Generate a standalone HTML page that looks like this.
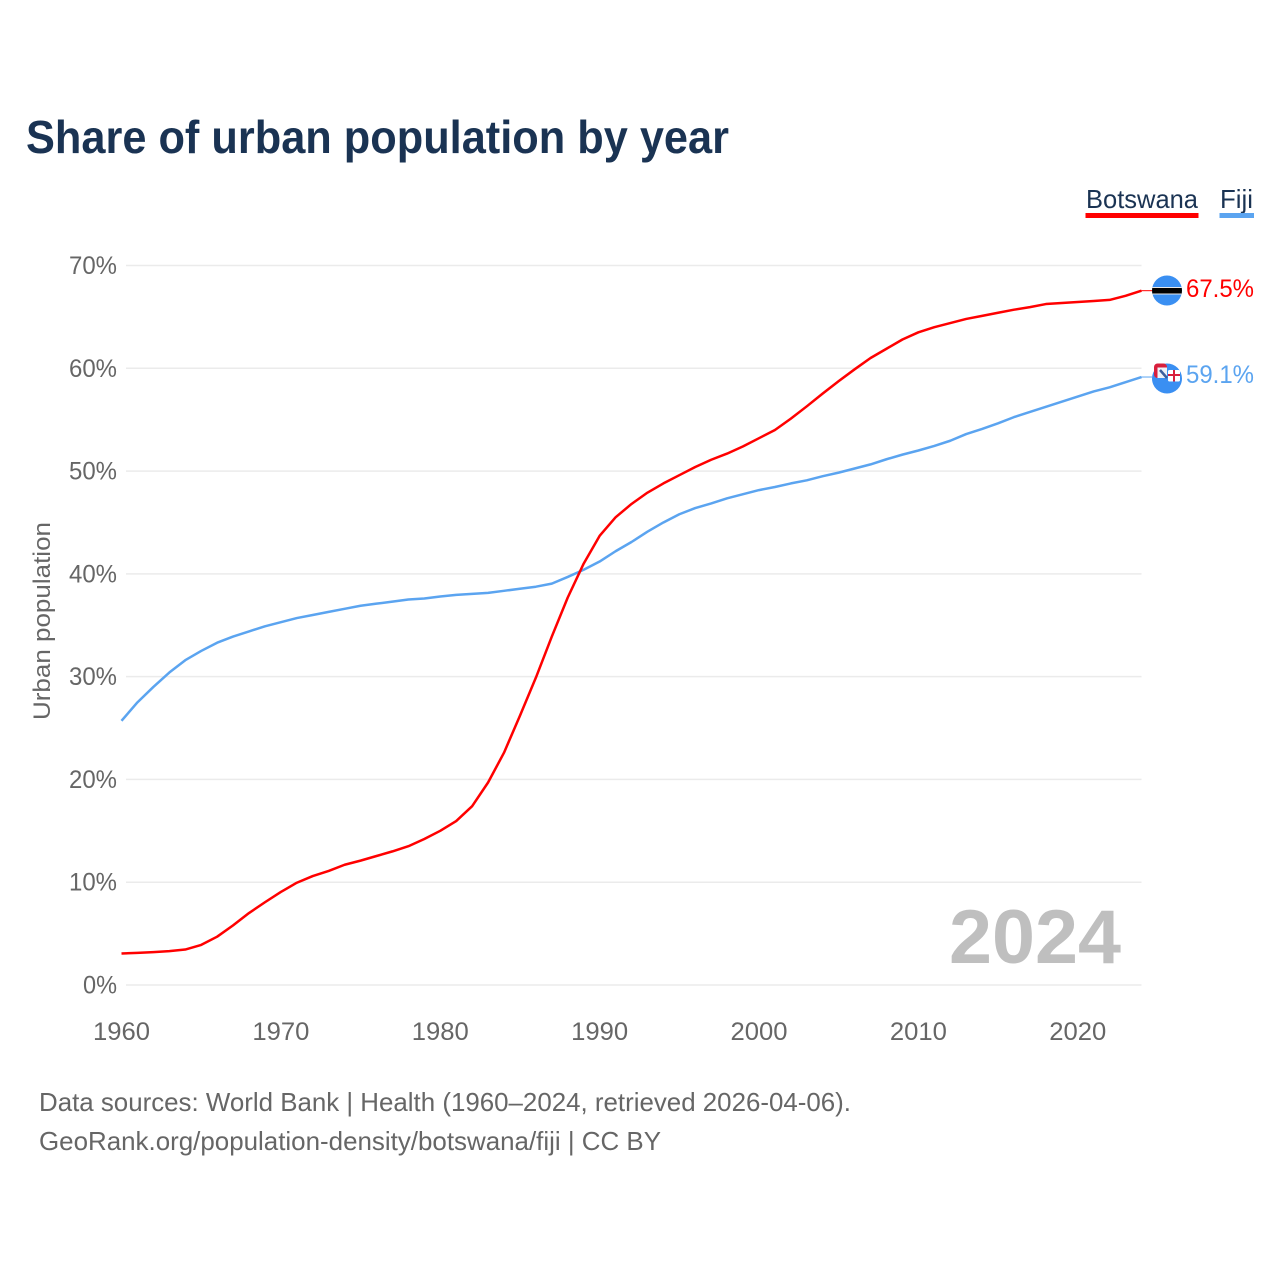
<!DOCTYPE html>
<html lang="en">
<head>
<meta charset="utf-8">
<title>Share of urban population by year</title>
<style>
html,body{margin:0;padding:0;background:#fff;width:1280px;height:1280px;overflow:hidden}
svg{display:block}
text{font-family:"Liberation Sans",sans-serif}
</style>
</head>
<body>
<svg id="chart" width="1280" height="1280" viewBox="0 0 1280 1280" xmlns="http://www.w3.org/2000/svg">
<defs>
<clipPath id="clip-bw"><circle cx="1167" cy="290.5" r="15"/></clipPath>
<clipPath id="clip-fj"><circle cx="1167" cy="378.5" r="15"/></clipPath>
</defs>
<text x="26" y="153" font-size="46" font-weight="700" fill="#1a3353" textLength="703" lengthAdjust="spacingAndGlyphs">Share of urban population by year</text>

<g id="grid"></g>
<g id="ylabels"></g>
<g id="xlabels"></g>
<text transform="translate(50,621) rotate(-90)" text-anchor="middle" font-size="24" fill="#666" textLength="198" lengthAdjust="spacingAndGlyphs">Urban population</text>

<text x="1121" y="963" text-anchor="end" font-size="76" font-weight="700" fill="#bfbfbf" textLength="172" lengthAdjust="spacingAndGlyphs">2024</text>

<g id="series"></g>

<g>
<text x="1086" y="208" font-size="26" fill="#1a3353" textLength="112" lengthAdjust="spacingAndGlyphs">Botswana</text>
<rect x="1085.5" y="213" width="113" height="5" fill="#ff0000"/>
</g>
<g>
<text x="1220" y="208" font-size="26" fill="#1a3353" textLength="33" lengthAdjust="spacingAndGlyphs">Fiji</text>
<rect x="1219.5" y="213" width="34.5" height="5" fill="#5ba4f0"/>
</g>

<g clip-path="url(#clip-bw)">
<rect x="1150" y="274" width="34" height="34" fill="#3a8ff2"/>
<rect x="1150" y="287" width="34" height="7.5" fill="#e8e8e8"/>
<rect x="1150" y="288" width="34" height="5.5" fill="#000"/>
</g>

<g>
<g clip-path="url(#clip-fj)">
<rect x="1150" y="362" width="34" height="33" fill="#3a8ff2"/>
</g>
<rect x="1154" y="363.5" width="13" height="14.5" rx="3.5" fill="#d81f3c"/>
<rect x="1157.5" y="367.5" width="9.5" height="10.5" fill="#eef2f8"/>
<path d="M1160 370 L1167 378" stroke="#3b5f9e" stroke-width="2.5"/>
<rect x="1168" y="370" width="12" height="11.5" rx="1.5" fill="#fff"/>
<rect x="1173" y="370" width="2" height="11.5" fill="#d81f3c"/>
<rect x="1168" y="374" width="12" height="2" fill="#d81f3c"/>
</g>

<text x="1186" y="297" font-size="25" fill="#ff0000" textLength="68" lengthAdjust="spacingAndGlyphs">67.5%</text>
<text x="1186" y="383" font-size="25" fill="#5ba4f0" textLength="68" lengthAdjust="spacingAndGlyphs">59.1%</text>

<text x="39" y="1111" font-size="26" fill="#666" textLength="812" lengthAdjust="spacingAndGlyphs">Data sources: World Bank | Health (1960–2024, retrieved 2026-04-06).</text>
<text x="39" y="1150" font-size="26" fill="#666" textLength="622" lengthAdjust="spacingAndGlyphs">GeoRank.org/population-density/botswana/fiji | CC BY</text>
</svg>
<script>
const years = [1960,1961,1962,1963,1964,1965,1966,1967,1968,1969,1970,1971,1972,1973,1974,1975,1976,1977,1978,1979,1980,1981,1982,1983,1984,1985,1986,1987,1988,1989,1990,1991,1992,1993,1994,1995,1996,1997,1998,1999,2000,2001,2002,2003,2004,2005,2006,2007,2008,2009,2010,2011,2012,2013,2014,2015,2016,2017,2018,2019,2020,2021,2022,2023,2024];
const botswana = [3.06,3.13,3.2,3.3,3.45,3.9,4.7,5.8,7.0,8.05,9.05,9.95,10.6,11.1,11.7,12.1,12.55,13.0,13.5,14.2,15.0,15.95,17.4,19.7,22.6,26.2,29.9,33.9,37.7,41.0,43.7,45.5,46.8,47.9,48.8,49.6,50.4,51.1,51.7,52.4,53.2,54.0,55.1,56.3,57.55,58.75,59.9,61.0,61.9,62.8,63.5,64.0,64.4,64.8,65.1,65.4,65.7,65.95,66.25,66.35,66.45,66.55,66.65,67.05,67.55];
const fiji = [25.7,27.5,29.0,30.4,31.6,32.5,33.3,33.9,34.4,34.9,35.3,35.7,36.0,36.3,36.6,36.9,37.1,37.3,37.5,37.6,37.8,37.95,38.05,38.15,38.35,38.55,38.75,39.05,39.7,40.4,41.2,42.2,43.1,44.1,45.0,45.8,46.4,46.85,47.35,47.75,48.15,48.45,48.8,49.1,49.5,49.85,50.25,50.65,51.15,51.6,52.0,52.45,52.95,53.6,54.1,54.65,55.25,55.75,56.25,56.75,57.25,57.75,58.15,58.65,59.15];
const yTicks = [0,10,20,30,40,50,60,70];
const xTicks = [1960,1970,1980,1990,2000,2010,2020];

const NS = 'http://www.w3.org/2000/svg';
const xScale = function (year) { return 121.5 + (year - 1960) * (1141.5 - 121.5) / 64; };
const yScale = function (pct) { return 985 - pct * (985 - 265.5) / 70; };

const grid = document.getElementById('grid');
const ylabels = document.getElementById('ylabels');
const xlabels = document.getElementById('xlabels');
const seriesGroup = document.getElementById('series');

yTicks.forEach(function (t) {
  const line = document.createElementNS(NS, 'line');
  
  
  line.setAttribute('x1', 126);
  line.setAttribute('x2', 1141.5);
  line.setAttribute('y1', yScale(t));
  line.setAttribute('y2', yScale(t));
  line.setAttribute('stroke', '#ebebeb');
  line.setAttribute('stroke-width', '1.5');
  grid.appendChild(line);

  const label = document.createElementNS(NS, 'text');
  
  
  label.setAttribute('x', 117);
  label.setAttribute('y', yScale(t) + 8.5);
  label.setAttribute('text-anchor', 'end');
  label.setAttribute('font-size', '25');
  label.setAttribute('fill', '#666');
  label.textContent = t + '%';
  label.setAttribute('textLength', t === 0 ? 34 : 48);
  label.setAttribute('lengthAdjust', 'spacingAndGlyphs');
  ylabels.appendChild(label);
});

xTicks.forEach(function (t) {
  const label = document.createElementNS(NS, 'text');
  
  
  label.setAttribute('x', xScale(t));
  label.setAttribute('y', 1040);
  label.setAttribute('text-anchor', 'middle');
  label.setAttribute('font-size', '25');
  label.setAttribute('fill', '#666');
  label.setAttribute('textLength', 57);
  label.setAttribute('lengthAdjust', 'spacingAndGlyphs');
  label.textContent = t;
  xlabels.appendChild(label);
});

function drawSeries(values, color, name) {
  const d = values.map(function (v, i) {
    return (i ? 'L' : 'M') + xScale(years[i]).toFixed(2) + ' ' + yScale(v).toFixed(2);
  }).join(' ');
  const path = document.createElementNS(NS, 'path');
  
  
  path.setAttribute('d', d);
  path.setAttribute('fill', 'none');
  path.setAttribute('stroke', color);
  path.setAttribute('stroke-width', '2.5');
  path.setAttribute('stroke-linejoin', 'round');
  seriesGroup.appendChild(path);

  const lastY = yScale(values[values.length - 1]);
  const connector = document.createElementNS(NS, 'line');
  
  
  connector.setAttribute('x1', xScale(years[years.length - 1]));
  connector.setAttribute('x2', 1152);
  connector.setAttribute('y1', lastY);
  connector.setAttribute('y2', lastY);
  connector.setAttribute('stroke', color);
  connector.setAttribute('stroke-width', '1');
  seriesGroup.appendChild(connector);
}

drawSeries(fiji, '#5ba4f0', 'fiji-line');
drawSeries(botswana, '#ff0000', 'botswana-line');
</script>
</body>
</html>
